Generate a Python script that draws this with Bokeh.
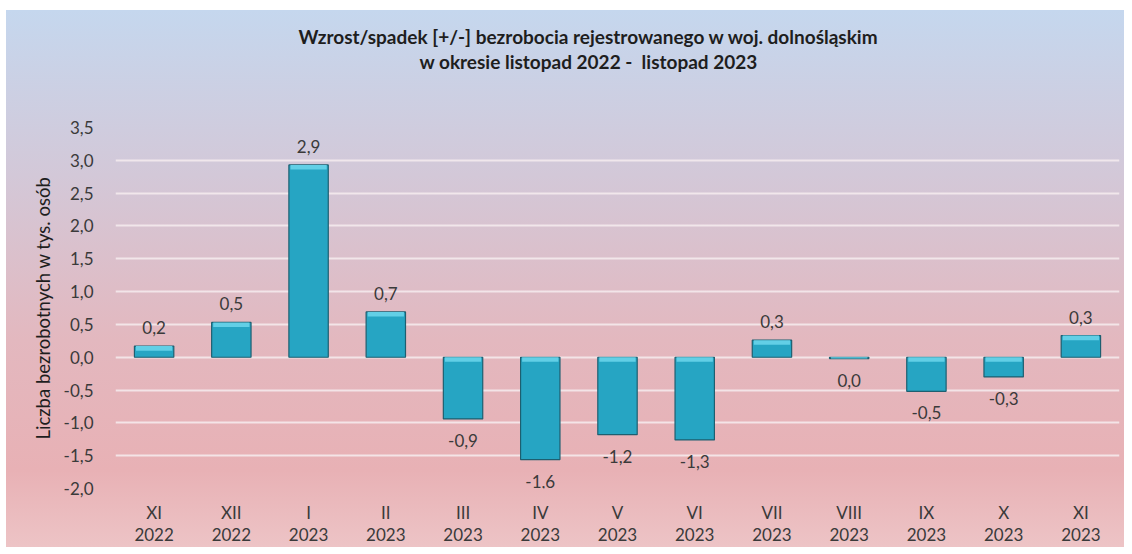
from bokeh.plotting import figure
from bokeh.models import (ColumnDataSource, FactorRange, Range1d, FixedTicker,
                          CustomJSTickFormatter, LabelSet, Title)
from bokeh.core.properties import value
from bokeh.embed import file_html
from bokeh.resources import INLINE

# ---- data ----
months = ["XI", "XII", "I", "II", "III", "IV", "V", "VI", "VII", "VIII", "IX", "X", "XI"]
years = ["2022", "2022", "2023", "2023", "2023", "2023", "2023", "2023", "2023", "2023", "2023", "2023", "2023"]
values = [0.17, 0.53, 2.93, 0.69, -0.94, -1.56, -1.18, -1.26, 0.26, -0.02, -0.52, -0.30, 0.33]
y_ticks = [-2.0, -1.5, -1.0, -0.5, 0.0, 0.5, 1.0, 1.5, 2.0, 2.5, 3.0, 3.5]
title_line1 = "Wzrost/spadek [+/-] bezrobocia rejestrowanego w woj. dolnośląskim"
title_line2 = "w okresie listopad 2022 -\u00a0 listopad 2023"
y_label = "Liczba bezrobotnych w tys. osób"

FONT = "Lato"
TXT = "#3a3a3a"
FS = "17px"

cats = [f"{m}\n{y}" for m, y in zip(months, years)]


def fmt(v):
    r = round(v, 1)
    if r == 0:
        return "0,0"
    return f"{r:.1f}".replace(".", ",")


labels = [fmt(v) for v in values]
pos = [v >= 0 for v in values]

# bevel highlight strip at the upper edge of each bar (style only)
BEVEL = 0.07
hl_top = [max(v, 0.0) for v in values]
hl_bot = [max(v, 0.0) - min(BEVEL, abs(v)) for v in values]

src = ColumnDataSource(dict(cat=cats, val=values, lab=labels, ht=hl_top, hb=hl_bot))
src_pos = ColumnDataSource(dict(cat=[c for c, q in zip(cats, pos) if q],
                                val=[v for v, q in zip(values, pos) if q],
                                lab=[l for l, q in zip(labels, pos) if q]))
src_neg = ColumnDataSource(dict(cat=[c for c, q in zip(cats, pos) if not q],
                                val=[v for v, q in zip(values, pos) if not q],
                                lab=[l for l, q in zip(labels, pos) if not q]))

p = figure(x_range=FactorRange(*cats, range_padding=0), y_range=Range1d(y_ticks[0], y_ticks[-1]),
           width=1124, height=547, output_backend="svg", toolbar_location=None,
           title=None, min_border_left=115, min_border_right=5,
           min_border_top=127, min_border_bottom=58)

p.styles = {"background": "linear-gradient(to right, #ffffff 0px, #ffffff 6px, rgba(255,255,255,0) 6px), "
                          "linear-gradient(to bottom, #ffffff 0px, #ffffff 10px, #c5d7ee 10px, #d3c8d8 32%, "
                          "#e3b8bf 62%, #e8b1b5 86%, #edc4c6 100%)"}
p.background_fill_alpha = 0
p.border_fill_alpha = 0
p.outline_line_color = None

# titles: list order is from the frame outward (spacer, line 2, line 1)
tstyle = dict(text_font=FONT, text_font_size="19px", text_font_style="bold", text_color="#1e1e1e")
spacer = Title(text="\u00a0", align="left", standoff=30, **tstyle)
t2 = Title(text=title_line2, align="left", offset=304, standoff=0, **tstyle)
t1 = Title(text=title_line1, align="left", offset=183, standoff=0, **tstyle)
p.above = [spacer, t2, t1]

# bars
p.vbar(x="cat", top="val", bottom=0, width=0.51, source=src,
       fill_color="#26a5c3", line_color="#1d5f70", line_width=1.2)
p.vbar(x="cat", top="ht", bottom="hb", width=0.47, source=src,
       fill_color="#62cfe6", line_color=None)

# data labels
lp = LabelSet(x="cat", y="val", text="lab", source=src_pos, text_align="center",
              text_baseline="bottom", y_offset=12, text_font=value(FONT), text_font_size=FS,
              text_color=TXT)
ln = LabelSet(x="cat", y="val", text="lab", source=src_neg, text_align="center",
              text_baseline="top", y_offset=-15, text_font=value(FONT), text_font_size=FS,
              text_color=TXT)
p.add_layout(lp)
p.add_layout(ln)

# axes
p.yaxis.ticker = FixedTicker(ticks=y_ticks)
p.yaxis.formatter = CustomJSTickFormatter(code="return tick.toFixed(1).replace('.', ',');")
p.yaxis.axis_label = y_label
p.yaxis.axis_label_text_font = FONT
p.yaxis.axis_label_text_font_size = "18.5px"
p.yaxis.axis_label_text_font_style = "normal"
p.yaxis.axis_label_text_color = "#1e1e1e"
p.yaxis.axis_label_standoff = 7
for ax in (p.xaxis, p.yaxis):
    ax.axis_line_color = None
    ax.major_tick_line_color = None
    ax.minor_tick_line_color = None
    ax.major_label_text_font = FONT
    ax.major_label_text_font_size = FS
    ax.major_label_text_color = TXT
p.yaxis.major_label_standoff = 16
p.xaxis.major_label_standoff = 7
p.xaxis.major_label_text_line_height = 1.05

p.xgrid.grid_line_color = None
p.ygrid.grid_line_color = "#f6ecee"
p.ygrid.grid_line_alpha = 0.85
p.ygrid.grid_line_width = 2

open("out.html", "w").write(file_html(p, INLINE))
